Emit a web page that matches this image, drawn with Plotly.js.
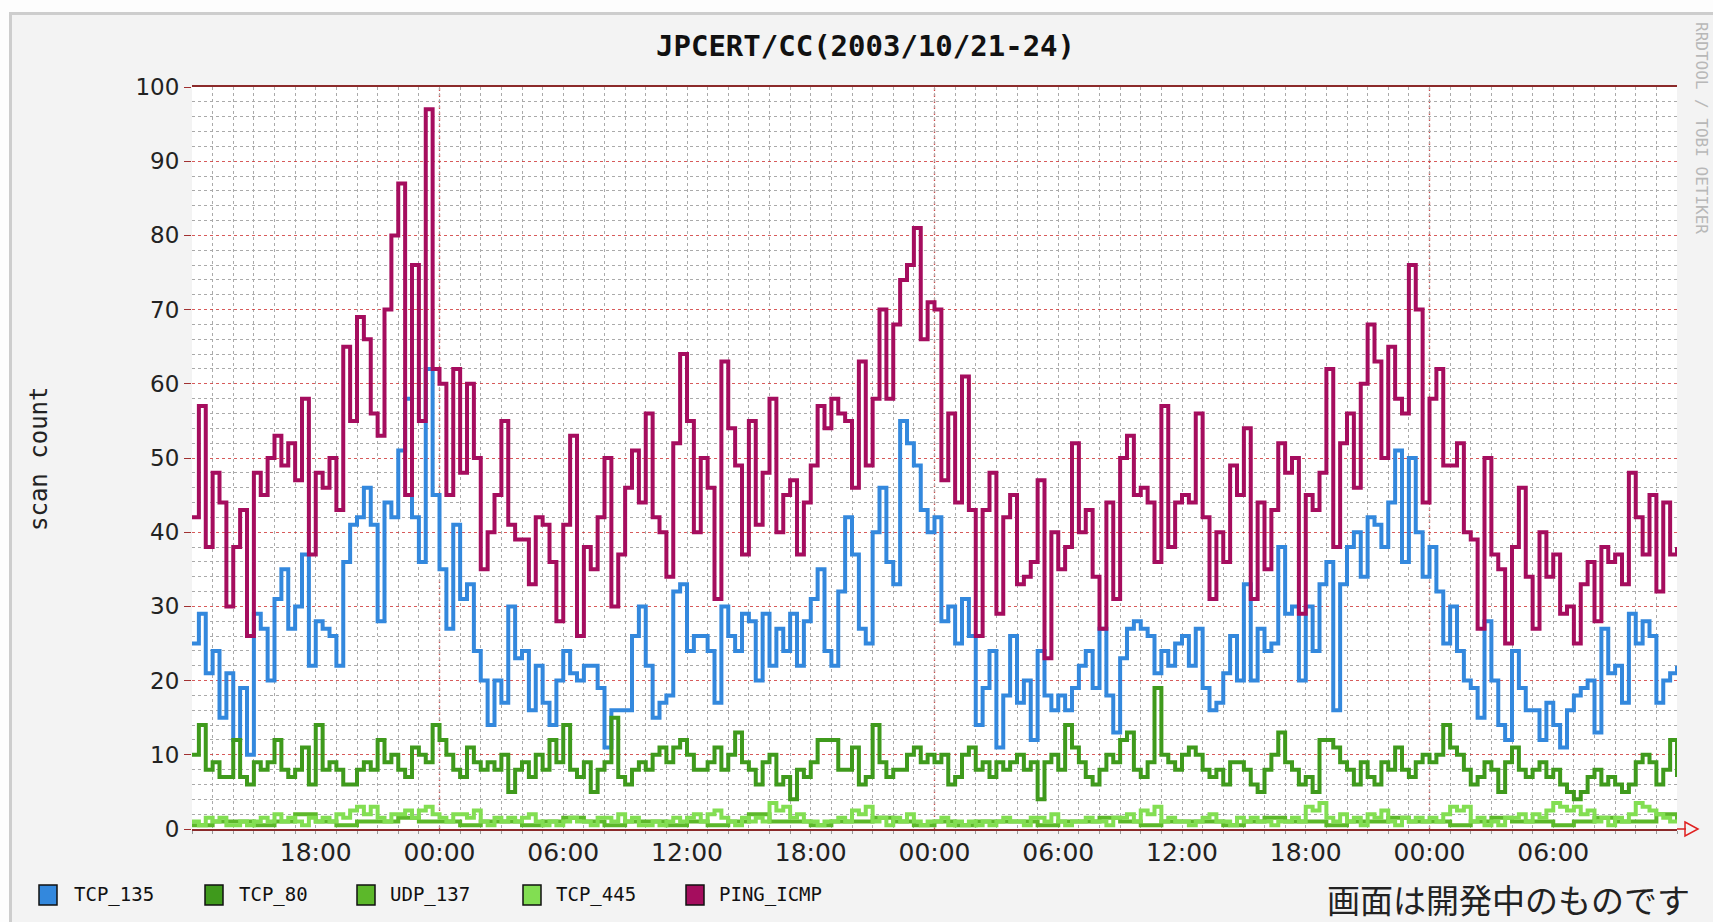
<!DOCTYPE html>
<html><head><meta charset="utf-8">
<script src="https://cdn.plot.ly/plotly-3.0.1.min.js"></script>
<style>
html,body{margin:0;padding:0;background:#fdfdfd;width:1713px;height:922px;overflow:hidden;}
#frame{position:absolute;left:9px;top:12px;width:1701px;height:907px;border-left:3px solid #cdcdcd;border-top:3px solid #cdcdcd;background:#f3f3f3;}
#chart{width:1701px;height:907px;}
</style></head><body><div id="frame"><div id="chart"></div></div>
<script>
// ---- data (20-minute samples from 2003/10/21 12:00) ----
const SERIES_NAMES = ['TCP_135','TCP_80','UDP_137','TCP_445','PING_ICMP'];
const TICK_FORMAT = '%H:%M';

const PING_ICMP = [
 42,57,38,48,44,30,38,43,26,48,45,50,53,49,52,47,58,37,48,46,50,43,65,55,69,66,56,53,70,80,87,45,76,55,97,62,
 60,45,62,48,60,50,35,40,45,55,41,39,39,33,42,41,36,28,41,53,26,38,35,42,50,30,37,46,51,44,56,42,40,34,52,64,
 55,40,50,46,31,63,54,49,37,55,41,48,58,40,45,47,37,44,49,57,54,58,56,55,46,63,49,58,70,58,68,74,76,81,66,71,
 70,47,56,44,61,43,26,43,48,29,42,45,33,34,36,47,23,40,35,38,52,40,43,34,27,44,31,50,53,45,46,44,36,57,38,44,
 45,44,56,42,31,40,36,49,45,54,31,44,35,43,52,48,50,29,45,43,48,62,38,52,56,46,60,68,63,50,65,58,56,76,70,44,
 58,62,49,49,52,40,39,27,50,37,35,25,38,46,34,27,40,34,37,29,30,25,33,36,28,38,36,37,33,48,42,37,45,32,44,37,38
];
const TCP_135 = [
 25,29,21,24,15,21,12,19,10,29,27,20,31,35,27,30,37,22,28,27,26,22,36,41,42,46,41,28,44,42,51,58,42,36,62,45,
 35,27,41,31,33,24,20,14,20,17,30,23,24,16,22,17,14,20,24,21,20,22,22,19,11,16,16,16,26,30,22,15,17,18,32,33,
 24,26,26,24,17,30,26,24,29,28,20,29,22,27,24,29,22,28,31,35,24,22,32,42,37,27,25,40,46,36,33,55,52,49,43,40,
 42,28,30,25,31,26,14,19,24,11,18,26,17,20,12,24,18,16,18,16,19,22,24,19,27,18,13,23,27,28,27,26,21,24,22,25,
 26,22,27,19,16,17,21,26,20,33,20,27,24,25,38,29,30,20,30,24,33,36,16,33,38,40,34,42,41,38,44,51,36,50,40,34,
 38,32,25,30,24,20,19,15,28,20,14,12,24,19,16,16,12,17,14,11,16,18,19,20,13,27,21,22,17,29,25,28,26,17,20,21,22
];
const TCP_80 = [
 10,14,8,9,7,7,12,7,6,9,8,9,12,8,7,8,11,6,14,8,9,8,6,6,8,9,8,12,9,10,8,7,11,10,9,14,
 12,10,8,7,11,9,8,9,8,10,5,8,9,7,10,8,12,9,14,8,7,9,5,8,9,15,7,6,8,9,8,10,11,9,11,12,
 10,8,8,9,11,8,10,13,9,8,6,9,10,6,7,4,8,7,9,12,12,12,8,8,11,6,7,14,9,7,8,8,10,11,9,10,
 9,10,6,7,10,11,8,9,7,9,8,9,10,8,9,4,9,10,8,14,11,9,7,6,8,10,9,12,13,8,7,9,19,10,9,8,
 10,11,10,8,7,8,6,9,9,8,6,5,8,10,13,9,8,6,7,5,12,12,11,9,8,6,9,7,6,9,8,11,8,7,9,10,
 9,10,14,11,10,8,6,7,9,8,5,9,11,8,7,8,9,7,8,6,5,4,5,7,8,6,7,6,5,6,9,10,9,6,8,12,7
];
const TCP_445 = [
 1,0.5,1.5, 1,1.5,0.5, 0.5,1,0.5, 1,1.5,1, 2,1,1.5, 1,0.5,1.5, 1,1.5,1, 2,1.5,2.5, 3,2,3, 1.5,1,2, 2,2.5,1.5, 2.5,3,2,
 1.5,1,2, 2,1.5,2.5, 1,0.5,1.5, 1,1.5,1, 1.5,2,1, 0.5,1,0.5, 1,1.5,1, 1,0.5,1.5, 1.5,1,2, 1,1.5,0.5, 0.5,1,0.5, 1,1.5,1,
 1.5,2,1, 2,2.5,1.5, 1,0.5,1.5, 1,1.5,1, 3.5,2.5,3, 1.5,2,1, 1,0.5,1, 1,1.5,1, 2.5,2,3, 1,1.5,0.5, 1.5,1,2, 1,0.5,1,
 1,1.5,0.5, 1,0.5,1, 0.5,1,0.5, 1,1.5,1, 1,0.5,1.5, 1.5,1,2, 1,0.5,1, 1,1.5,1, 1,0.5,1.5, 1.5,2,1, 2.5,2,3, 1,1.5,1,
 1,0.5,1, 1.5,2,1, 1,0.5,1.5, 1,1.5,1, 1,0.5,1, 1,1.5,1, 3,2.5,3.5, 1.5,1,2, 1,1.5,0.5, 2,1.5,2.5, 1,0.5,1.5, 1,1.5,1,
 1.5,1,2, 3,2.5,3, 1,1.5,0.5, 1,0.5,1.5, 1.5,2,1, 2,1.5,2.5, 3.5,3,2.5, 3,2,2.5, 1,1.5,0.5, 1.5,1,2, 3.5,3,2.5, 2,1.5,1, 1
];
// hourly samples
const UDP_137 = [
 0.5,1,1,0.5,1,2,1,0.5,1,1,1.5,1, 1,0.5,1,1,0.5,1,1.5,1,0.5,1,1,0.5,
 1,0.5,1,2,1,1,0.5,1,1,1.5,1,0.5, 1,0.5,1,1,1,0.5,1,1,1.5,1,0.5,1,
 1,1,0.5,1,1.5,1,1,0.5,1,1,1.5,1, 1,0.5,1,1.5,1,1,0.5,1,1.5,1,1,2,1
];

const COLORS = {TCP_135:'#3388dd', TCP_80:'#3f9a1c', UDP_137:'#5cb82a', TCP_445:'#82de52', PING_ICMP:'#a50d5e'};

const startMs = Date.UTC(2003, 9, 21, 12, 0);
const HOUR = 3600*1000, FINE = 20*60*1000;
const tFine = PING_ICMP.map((_, i) => startMs + i*FINE);
const tHour = UDP_137.map((_, i) => startMs + i*HOUR);
const endMs = startMs + 72*HOUR;

const dataMap = {
  TCP_135: [tFine, TCP_135], TCP_80: [tFine, TCP_80], UDP_137: [tHour, UDP_137],
  TCP_445: [tFine, TCP_445], PING_ICMP: [tFine, PING_ICMP]
};
const traces = SERIES_NAMES.map(n => ({
  type:'scatter', mode:'lines', name:n, x:dataMap[n][0], y:dataMap[n][1],
  line:{color:COLORS[n], width:4, shape:'hv'}, hoverinfo:'skip'
}));

// x tick positions every 6 h, inside the range only
const tickVals = [];
for (let t = Date.UTC(2003,9,21,18); t < endMs; t += 6*HOUR) tickVals.push(t);

// page-pixel helpers for plot area
const L = 192, R = 1677, T = 87, B = 829;
const xp = px => (px - L)/(R - L);
const yp = py => (B - py)/(B - T);

const shapes = [];
for (let d = Date.UTC(2003,9,22); d < endMs; d += 24*HOUR) {
  shapes.push({type:'line', xref:'x', yref:'paper', x0:d, x1:d, y0:0, y1:1, layer:'below',
    line:{color:'rgba(205,40,40,0.85)', width:1.3, dash:'dot'}});
}
shapes.push({type:'line', xref:'paper', yref:'paper', x0:1, x1:xp(1686), y0:0, y1:0, line:{color:'#d02020', width:1.5}});
shapes.push({type:'path', xref:'paper', yref:'paper',
  path:`M ${xp(1685)} ${yp(822)} L ${xp(1698)} ${yp(829)} L ${xp(1685)} ${yp(836)} Z`,
  line:{color:'#e02020', width:1.5}, fillcolor:'rgba(0,0,0,0)'});

const annotations = [];
annotations.push({xref:'paper', yref:'paper', x:xp(865), y:yp(46), text:'JPCERT/CC(2003/10/21-24)',
  showarrow:false, font:{family:'DejaVu Sans Mono', size:29, color:'#111', weight:'bold'}, xanchor:'center', yanchor:'middle'});
annotations.push({xref:'paper', yref:'paper', x:xp(39), y:yp(459), text:'scan count', textangle:-90,
  showarrow:false, font:{family:'DejaVu Sans Mono', size:24, color:'#222'}, xanchor:'center', yanchor:'middle'});
annotations.push({xref:'paper', yref:'paper', x:xp(1702), y:yp(128), text:'RRDTOOL / TOBI OETIKER', textangle:90,
  showarrow:false, font:{family:'DejaVu Sans Mono', size:16, color:'#b8b8b8'}, xanchor:'center', yanchor:'middle'});
annotations.push({xref:'paper', yref:'paper', x:xp(1692), y:yp(899), text:'画面は開発中のものです',
  showarrow:false, font:{family:'Noto Sans CJK JP', size:33, color:'#222'}, xanchor:'right', yanchor:'middle'});

const legendSq = [48, 214, 366, 532, 695];
const legendTx = [72, 237, 388, 554, 717];
SERIES_NAMES.forEach((n, i) => {
  shapes.push({type:'rect', xref:'paper', yref:'paper', x0:xp(legendSq[i]-9), x1:xp(legendSq[i]+9),
    y0:yp(905), y1:yp(885), fillcolor:COLORS[n], line:{color:'#111', width:1.5}});
  annotations.push({xref:'paper', yref:'paper', x:xp(legendTx[i]), y:yp(895), text:n, showarrow:false,
    xanchor:'left', yanchor:'middle', font:{family:'DejaVu Sans Mono', size:19, color:'#111'}});
});

const layout = {
  width:1701, height:907,
  margin:{l:180, r:36, t:72, b:93},
  paper_bgcolor:'#f3f3f3', plot_bgcolor:'#ffffff',
  showlegend:false,
  xaxis:{type:'date', range:[startMs, endMs], tickmode:'array', tickvals:tickVals, tickformat:TICK_FORMAT,
    showgrid:true, gridcolor:'#aaaaaa', griddash:'dot', gridwidth:1,
    minor:{dtick:HOUR, tick0:Date.UTC(2003,9,21,0), showgrid:true, gridcolor:'#aaaaaa', griddash:'dot', gridwidth:1,
           ticks:'outside', ticklen:3, tickcolor:'#999'},
    ticks:'', showline:true, linecolor:'#8b2a2a', linewidth:2, mirror:true, zeroline:false,
    tickfont:{family:'DejaVu Sans', size:25, color:'#222'}, fixedrange:true},
  yaxis:{range:[0,100], tick0:0, dtick:10,
    showgrid:true, gridcolor:'rgba(205,50,50,0.8)', griddash:'dot', gridwidth:1,
    minor:{dtick:2, showgrid:true, gridcolor:'#aaaaaa', griddash:'dot', gridwidth:1},
    ticks:'outside', ticklen:7, tickcolor:'#a03030', showline:false, zeroline:false,
    tickfont:{family:'DejaVu Sans', size:23, color:'#222'}, fixedrange:true},
  shapes:shapes, annotations:annotations
};
Plotly.newPlot('chart', traces, layout, {displayModeBar:false, staticPlot:true});
</script></body></html>
